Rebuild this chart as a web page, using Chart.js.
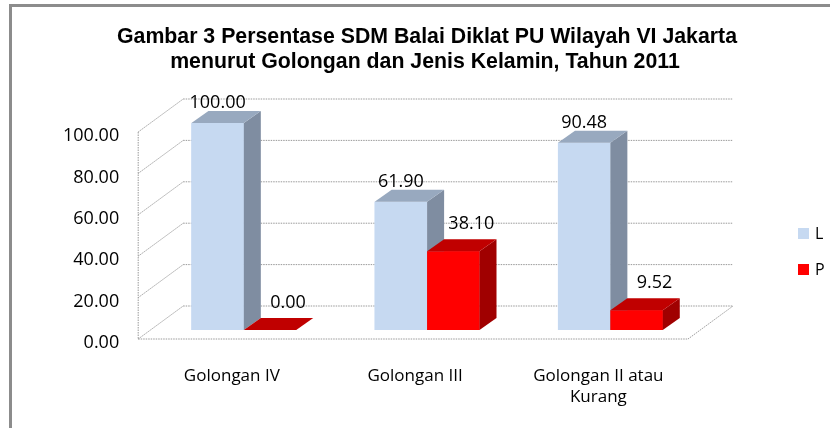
<!DOCTYPE html>
<html>
<head>
<meta charset="utf-8">
<script src="https://cdn.jsdelivr.net/npm/chart.js@4"></script>
<style>
  html, body { margin: 0; padding: 0; background: #fff; }
  #wrap { width: 830px; height: 428px; }
</style>
</head>
<body>
<div id="wrap"><canvas id="myChart" width="830" height="428"></canvas></div>
<script>
const categories = ["Golongan IV", "Golongan III", ["Golongan II atau", "Kurang"]];
const seriesL = [100.00, 61.90, 90.48];
const seriesP = [0.00, 38.10, 9.52];
const yTicks = [0, 20, 40, 60, 80, 100];
const titleLines = [
  "Gambar 3 Persentase SDM Balai Diklat PU Wilayah VI Jakarta",
  "menurut Golongan dan Jenis Kelamin, Tahun 2011"
];

const LABEL_FONT = "Open Sans";

// 3D look: front plane and back wall are shifted copies of the bar plane
const FRONT = { dx: -14, dy: 9 };
const BACK = { dx: 31, dy: -24 };
const DEPTH = { dx: 17, dy: -12 };

const faces = [
  { side: "#7f8da1", top: "#98a9bf" },
  { side: "#a00000", top: "#c00000" }
];

const gridLine = (ctx, x1, y1, x2, y2) => {
  ctx.beginPath();
  ctx.moveTo(x1, y1);
  ctx.lineTo(x2, y2);
  ctx.stroke();
};

const frame3d = {
  id: "frame3d",
  beforeDraw(chart) {
    const ctx = chart.ctx;
    ctx.save();
    ctx.strokeStyle = "#8c8c8c";
    ctx.lineWidth = 3;
    ctx.beginPath();
    ctx.moveTo(10.5, 440);
    ctx.lineTo(10.5, 5.5);
    ctx.lineTo(840, 5.5);
    ctx.stroke();
    // title
    ctx.fillStyle = "#000";
    ctx.textAlign = "center";
    ctx.textBaseline = "alphabetic";
    ctx.font = "bold 21.3px 'Liberation Sans'";
    ctx.fillText(titleLines[0], 427, 43);
    ctx.fillText(titleLines[1], 425, 68);
    ctx.restore();
  },
  beforeDatasetsDraw(chart) {
    const { ctx, chartArea: a, scales: { y } } = chart;
    ctx.save();
    ctx.strokeStyle = "#9a9a9a";
    ctx.lineWidth = 1;
    ctx.setLineDash([1.5, 1]);
    yTicks.forEach((v) => {
      const py = y.getPixelForValue(v);
      // back wall
      gridLine(ctx, a.left + BACK.dx, py + BACK.dy, a.right + BACK.dx, py + BACK.dy);
      // left side wall
      gridLine(ctx, a.left + FRONT.dx, py + FRONT.dy, a.left + BACK.dx, py + BACK.dy);
    });
    const y0 = y.getPixelForValue(0);
    const y100 = y.getPixelForValue(100);
    // front-left edge
    gridLine(ctx, a.left + FRONT.dx, y100 + FRONT.dy, a.left + FRONT.dx, y0 + FRONT.dy);
    // floor front and right edges
    gridLine(ctx, a.left + FRONT.dx, y0 + FRONT.dy, a.right + FRONT.dx, y0 + FRONT.dy);
    gridLine(ctx, a.right + FRONT.dx, y0 + FRONT.dy, a.right + BACK.dx, y0 + BACK.dy);
    ctx.restore();
  },
  afterDatasetsDraw(chart) {
    const ctx = chart.ctx;
    ctx.save();
    // redraw front faces series by series so L sits behind P, then add side and top faces
    chart.data.datasets.forEach((ds, i) => {
      const c = faces[i];
      chart.getDatasetMeta(i).data.forEach((bar) => {
        bar.draw(ctx);
        const { x, y, base, width } = bar.getProps(["x", "y", "base", "width"], true);
        const l = x - width / 2, r = x + width / 2;
        ctx.fillStyle = c.side;
        ctx.beginPath();
        ctx.moveTo(r, y);
        ctx.lineTo(r + DEPTH.dx, y + DEPTH.dy);
        ctx.lineTo(r + DEPTH.dx, base + DEPTH.dy);
        ctx.lineTo(r, base);
        ctx.closePath();
        ctx.fill();
        ctx.fillStyle = c.top;
        ctx.beginPath();
        ctx.moveTo(l, y);
        ctx.lineTo(l + DEPTH.dx, y + DEPTH.dy);
        ctx.lineTo(r + DEPTH.dx, y + DEPTH.dy);
        ctx.lineTo(r, y);
        ctx.closePath();
        ctx.fill();
      });
    });
    // value labels
    ctx.font = "18px '" + LABEL_FONT + "'";
    ctx.fillStyle = "#000";
    ctx.textAlign = "center";
    ctx.textBaseline = "middle";
    chart.data.datasets.forEach((ds, i) => {
      chart.getDatasetMeta(i).data.forEach((bar, j) => {
        const { x, y } = bar.getProps(["x", "y"], true);
        const off = i === 0 ? { dx: 0, dy: -20 } : { dx: 18, dy: -27 };
        ctx.fillText(ds.data[j].toFixed(2), x + off.dx, y + off.dy);
      });
    });
    // legend
    ctx.textAlign = "left";
    ctx.font = "16px '" + LABEL_FONT + "'";
    chart.data.datasets.forEach((ds, i) => {
      const ly = 228 + i * 36;
      ctx.fillStyle = ds.backgroundColor;
      ctx.fillRect(798, ly, 11, 11);
      ctx.fillStyle = "#000";
      ctx.fillText(ds.label, 815, ly + 6);
    });
    ctx.restore();
  }
};

new Chart(document.getElementById("myChart").getContext("2d"), {
  type: "bar",
  data: {
    labels: categories,
    datasets: [
      { label: "L", data: seriesL, backgroundColor: "#c6d9f1" },
      { label: "P", data: seriesP, backgroundColor: "#ff0000" }
    ]
  },
  options: {
    responsive: false,
    animation: false,
    layout: { padding: { top: 123, left: 30, right: 128, bottom: -16 } },
    datasets: { bar: { categoryPercentage: 0.572, barPercentage: 1.0 } },
    plugins: {
      legend: { display: false },
      tooltip: { enabled: false },
      title: { display: false }
    },
    scales: {
      x: {
        grid: { display: false, drawTicks: false },
        border: { display: false },
        ticks: {
          color: "#000",
          font: { family: LABEL_FONT, size: 17, lineHeight: 1.235 },
          padding: 36,
          labelOffset: -12,
          maxRotation: 0
        }
      },
      y: {
        min: 0,
        max: 100,
        grid: { display: false, drawTicks: false },
        border: { display: false },
        ticks: {
          stepSize: 20,
          color: "#000",
          font: { family: LABEL_FONT, size: 18 },
          padding: 33,
          labelOffset: 13,
          callback: (v) => v.toFixed(2)
        }
      }
    }
  },
  plugins: [frame3d]
});
</script>
</body>
</html>
